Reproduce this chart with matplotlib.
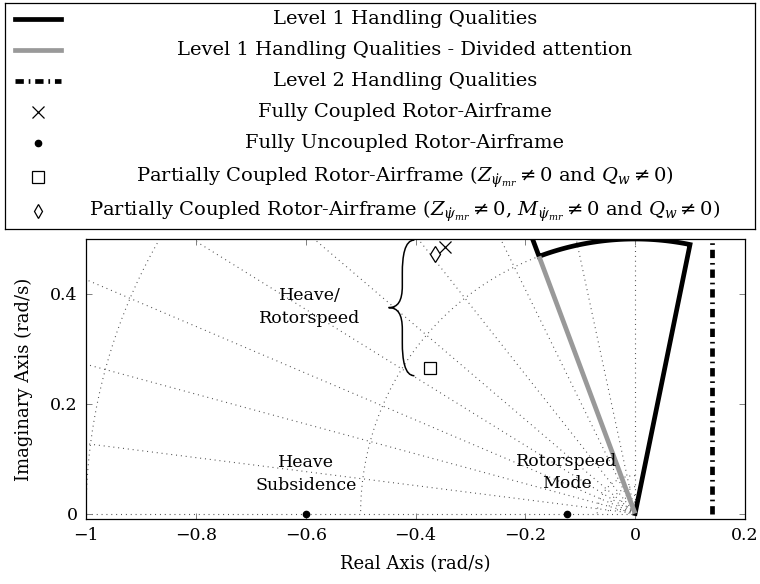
import numpy as np
import matplotlib
matplotlib.use("Agg")
import matplotlib.pyplot as plt
from matplotlib.path import Path
from matplotlib.patches import PathPatch

plt.rcParams['font.family'] = ['DejaVu Serif']
plt.rcParams['mathtext.fontset'] = 'dejavuserif'
plt.rcParams['lines.scale_dashes'] = False

# damping / frequency grid (s-plane)
zeta_grid = [0.21, 0.44, 0.62, 0.76, 0.85, 0.92, 0.965, 0.992]
wn_grid = [0.012, 0.021, 0.033, 0.049, 0.069, 0.5, 1.0]

# handling qualities boundaries
zeta_l1 = 0.35          # Level 1 damping boundary
zeta_l1_right = -0.2    # right edge of Level 1 sector
wn_l1 = 0.5             # Level 1 frequency boundary
sigma_l2 = 0.14         # Level 2 real part boundary

# poles
coupled_re = [-0.347]
coupled_im = [0.485]
uncoupled_re = [-0.6, -0.124]
uncoupled_im = [0.0, 0.0]
partial_re = [-0.373]
partial_im = [0.265]
partial2_re = [-0.364]
partial2_im = [0.473]

labels = ["Level 1 Handling Qualities",
          "Level 1 Handling Qualities - Divided attention",
          "Level 2 Handling Qualities",
          "Fully Coupled Rotor-Airframe",
          "Fully Uncoupled Rotor-Airframe",
          r"Partially Coupled Rotor-Airframe ($Z_{\dot{\psi}_{mr}} \neq 0$ and $Q_w \neq 0$)",
          r"Partially Coupled Rotor-Airframe ($Z_{\dot{\psi}_{mr}} \neq 0$, $M_{\dot{\psi}_{mr}} \neq 0$ and $Q_w \neq 0$)"]

fig = plt.figure(figsize=(7.6, 5.84), dpi=100)
ax = fig.add_axes([86/760, 65/584, 659/760, 280/584])

dashdot = (0, (6, 3.5, 1.2, 3.5))
grid_kw = dict(color='0.3', lw=0.8, ls=(0, (0.7, 2.8)), zorder=1)

# grid
for z in zeta_grid:
    ang = np.pi - np.arccos(z)
    ax.plot([0, 1.3*np.cos(ang)], [0, 1.3*np.sin(ang)], **grid_kw)
ax.plot([-1.3, 0], [0, 0], **grid_kw)
ax.plot([0, 0], [0, 1.3], **grid_kw)
th = np.linspace(np.pi/2, np.pi, 200)
for w in wn_grid:
    ax.plot(w*np.cos(th), w*np.sin(th), **grid_kw)

# Level 1 boundary
a1 = np.pi - np.arccos(zeta_l1)
a2 = np.pi - np.arccos(zeta_l1_right)
arc = np.linspace(a1, a2, 100)
bx = np.concatenate([[1.3*np.cos(a1)], wn_l1*np.cos(arc), [0]])
by = np.concatenate([[1.3*np.sin(a1)], wn_l1*np.sin(arc), [0]])
ax.plot(bx, by, color='black', lw=3.4, zorder=3, solid_joinstyle='miter')
ax.plot([0, wn_l1*np.cos(a1)], [0, wn_l1*np.sin(a1)], color='#999999', lw=3.4,
        zorder=4, solid_capstyle='butt')

# Level 2 boundary
ax.plot([sigma_l2, sigma_l2], [0, 0.5], color='black', lw=3.4, ls=dashdot, zorder=3)

# poles
ax.plot(coupled_re, coupled_im, 'x', color='black', ms=9, mew=0.9, zorder=5)
ax.plot(uncoupled_re, uncoupled_im, 'o', color='black', ms=4.5, zorder=5)
ax.plot(partial_re, partial_im, 's', mfc='white', mec='black', ms=9, mew=0.9, zorder=5)
ax.plot(partial2_re, partial2_im, 'd', mfc='white', mec='black', ms=8, mew=0.9, zorder=5)

# brace
x0, xm, xt = -0.402, -0.424, -0.449
yt, ym, yb = 0.498, 0.375, 0.251
verts = [(x0, yt), (xm + 0.004, yt), (xm, yt - 0.03), (xm, yt - 0.06),
         (xm, ym + 0.04),
         (xm, ym + 0.012), (xm - 0.008, ym), (xt, ym),
         (xm - 0.008, ym), (xm, ym - 0.012), (xm, ym - 0.04),
         (xm, yb + 0.06),
         (xm, yb + 0.03), (xm + 0.004, yb), (x0, yb)]
codes = [Path.MOVETO, Path.CURVE4, Path.CURVE4, Path.CURVE4,
         Path.LINETO,
         Path.CURVE4, Path.CURVE4, Path.CURVE4,
         Path.CURVE4, Path.CURVE4, Path.CURVE4,
         Path.LINETO,
         Path.CURVE4, Path.CURVE4, Path.CURVE4]
ax.add_patch(PathPatch(Path(verts, codes), fill=False, lw=1.1, color='black', zorder=5))

txt_kw = dict(ha='center', va='center', fontsize=12.5, linespacing=1.4, zorder=6)
ax.text(-0.593, 0.376, "Heave/\nRotorspeed", **txt_kw)
ax.text(-0.6, 0.072, "Heave\nSubsidence", **txt_kw)
ax.text(-0.124, 0.075, "Rotorspeed\nMode", **txt_kw)

ax.set_xlim(-1, 0.2)
ax.set_ylim(-0.01, 0.5)
ax.set_aspect('equal', adjustable='box')
ax.set_xticks([-1, -0.8, -0.6, -0.4, -0.2, 0, 0.2])
ax.set_xticklabels(["\u22121", "\u22120.8", "\u22120.6", "\u22120.4", "\u22120.2", "0", "0.2"])
ax.set_yticks([0, 0.2, 0.4])
ax.set_yticklabels(["0", "0.2", "0.4"])
ax.tick_params(direction='in', top=True, right=True, length=4, width=0.7,
               color='0.5', labelsize=12.5, pad=6)
for s in ax.spines.values():
    s.set_linewidth(0.9)
ax.set_xlabel("Real Axis (rad/s)", fontsize=13, labelpad=8)
ax.set_ylabel("Imaginary Axis (rad/s)", fontsize=13, labelpad=12)

# legend drawn by hand so the texts are centred like in pgfplots
lax = fig.add_axes([5/760, (584-229)/584, 750/760, 226/584])
lax.set_xlim(0, 750)
lax.set_ylim(226, 0)
lax.set_xticks([])
lax.set_yticks([])
for s in lax.spines.values():
    s.set_linewidth(0.9)
rows = [16, 47, 78, 109, 140, 174, 208]
hx = [10, 56]
mx = 33
lax.plot(hx, [rows[0]]*2, color='black', lw=3.4)
lax.plot(hx, [rows[1]]*2, color='#999999', lw=3.4)
lax.plot(hx, [rows[2]]*2, color='black', lw=3.4, ls=dashdot)
lax.plot([mx], [rows[3]], 'x', color='black', ms=8, mew=0.9)
lax.plot([mx], [rows[4]], 'o', color='black', ms=4.5)
lax.plot([mx], [rows[5]], 's', mfc='white', mec='black', ms=8, mew=0.9)
lax.plot([mx], [rows[6]], 'd', mfc='white', mec='black', ms=7, mew=0.9)
for r, lab in zip(rows, labels):
    lax.text(400, r, lab, ha='center', va='center', fontsize=14)

fig.savefig("out.png", dpi=100)
